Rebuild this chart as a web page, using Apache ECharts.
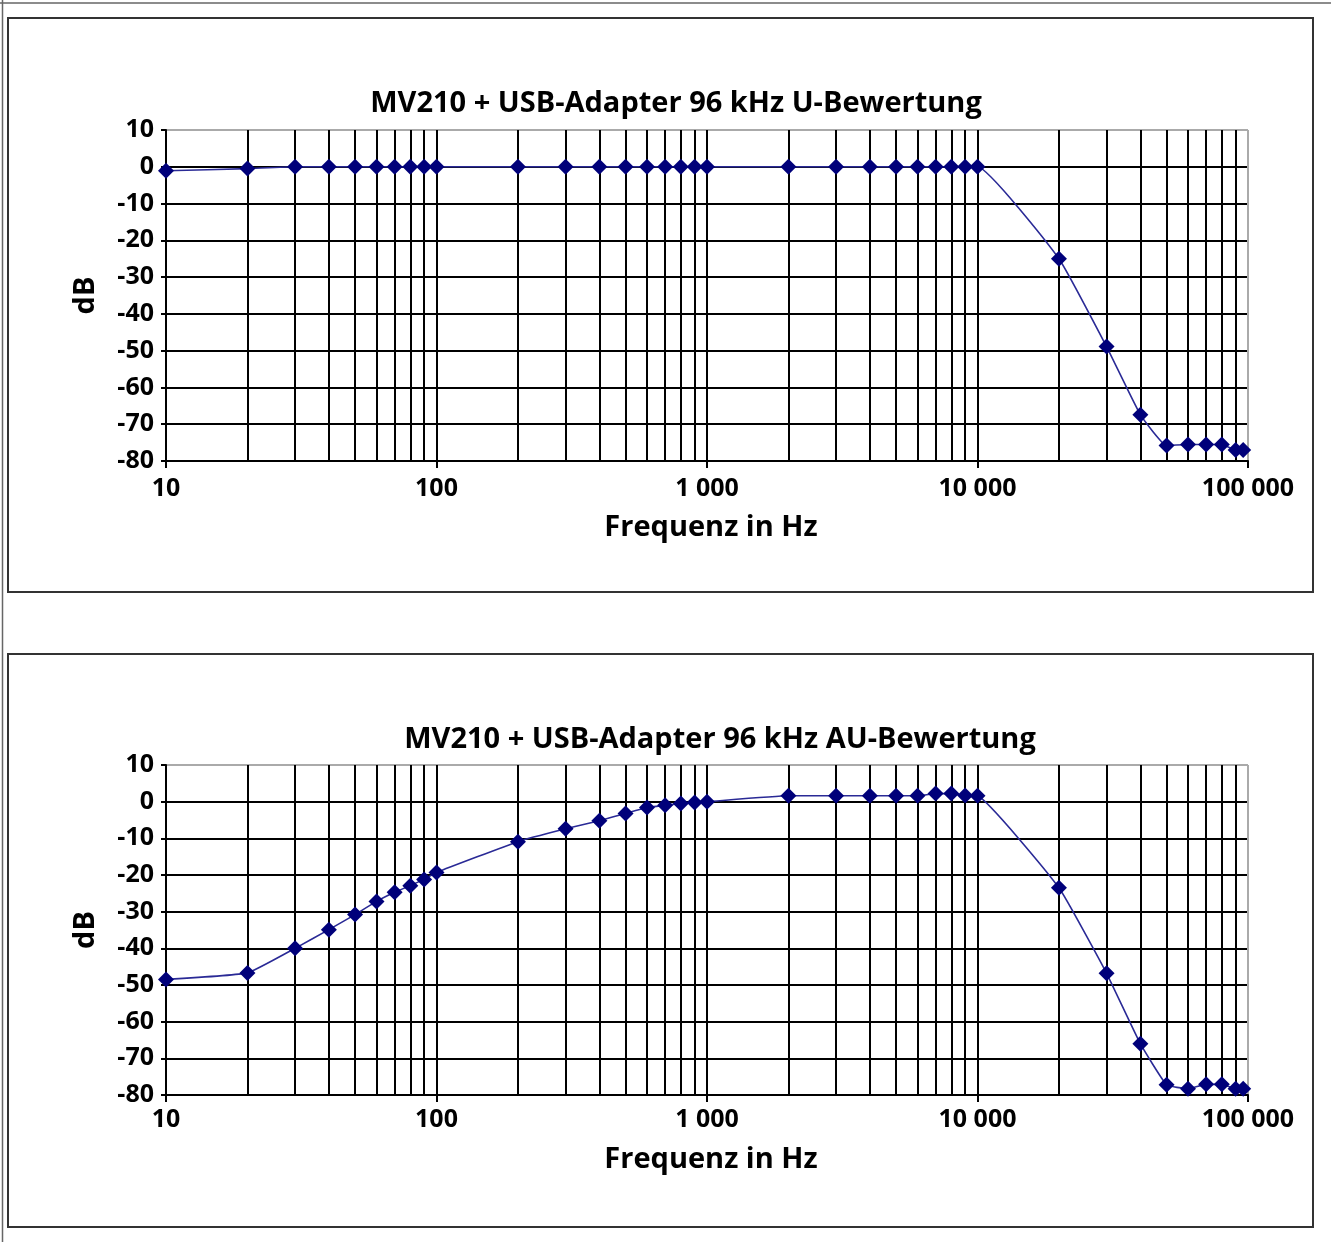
<!DOCTYPE html>
<html>
<head>
<meta charset="utf-8">
<script src="https://cdn.jsdelivr.net/npm/echarts@6/dist/echarts.min.js"></script>
<style>
html,body{margin:0;padding:0;background:#fff;}
#c{width:1331px;height:1242px;}
</style>
</head>
<body>
<div id="c"></div>
<script>
// ---- data ----
const freqs = [10,20,30,40,50,60,70,80,90,100,200,300,400,500,600,700,800,900,1000,2000,3000,4000,5000,6000,7000,8000,9000,10000,20000,30000,40000,50000,60000,70000,80000,90000,96000];
const uValues = [-1.1,-0.5,0,0,0,0,0,0,0,0,0,0,0,0,0,0,0,0,0,0,0,0,0,0,0,0,0,0,-25,-48.9,-67.4,-75.8,-75.5,-75.5,-75.5,-77,-77];
const auValues = [-48.5,-46.7,-40,-34.9,-30.8,-27.2,-24.7,-22.9,-21.2,-19.3,-10.9,-7.4,-5.2,-3.2,-1.6,-1.0,-0.5,-0.2,0,1.6,1.6,1.6,1.6,1.6,2.2,2.2,1.7,1.6,-23.5,-46.8,-66,-77.2,-78.3,-77.1,-77.1,-78.3,-78.3];
const minorGrid = [20,30,40,50,60,70,80,90,200,300,400,500,600,700,800,900,2000,3000,4000,5000,6000,7000,8000,9000,20000,30000,40000,50000,60000,70000,80000,90000];
const xTickLabels = ['10','100','1 000','10 000','100 000'];
const titles = ['MV210 + USB-Adapter 96 kHz U-Bewertung','MV210 + USB-Adapter 96 kHz AU-Bewertung'];
const xName = 'Frequenz in Hz';
const yName = 'dB';

const FONT = 'Open Sans';
const chart = echarts.init(document.getElementById('c'), null, {renderer:'canvas'});

const grids = [
  {left:166, right:83, top:130, height:331},
  {left:166, right:83, top:765, height:330}
];

function xAxis(i){
  return {
    type:'log', logBase:10, min:10, max:100000, gridIndex:i,
    name:xName, nameLocation:'middle', nameGap:i===0?52:50,
    nameTextStyle:{fontFamily:FONT, fontSize:29, fontWeight:'bold', color:'#000', padding:[0,0,0,8]},
    axisLine:{show:true, onZero:false, lineStyle:{color:'#000', width:2}},
    axisTick:{show:true, length:7, lineStyle:{color:'#000', width:2}},
    axisLabel:{fontFamily:FONT, fontSize:25, fontWeight:'bold', color:'#000', margin:i===0?15:12,
      formatter:function(v){ return xTickLabels[Math.round(Math.log10(v))-1]; }},
    splitLine:{show:true, lineStyle:{color:['#000','#000','#000','#000','#aaa'], width:2}},
    minorTick:{show:false}
  };
}
function yAxis(i){
  return {
    type:'value', min:-80, max:10, interval:10, gridIndex:i,
    name:yName, nameLocation:'middle', nameGap:66, nameRotate:90,
    nameTextStyle:{fontFamily:FONT, fontSize:29, fontWeight:'bold', color:'#000'},
    axisLine:{show:true, onZero:false, lineStyle:{color:'#000', width:2}},
    axisTick:{show:true, length:5, lineStyle:{color:'#000', width:2}},
    axisLabel:{fontFamily:FONT, fontSize:25, fontWeight:'bold', color:'#000', margin:12},
    splitLine:{show:true, lineStyle:{color:['#000','#000','#000','#000','#000','#000','#000','#000','#000','#aaa'], width:2}}
  };
}
function gridSeries(i){
  return {
    type:'line', xAxisIndex:i, yAxisIndex:i, z:1, silent:true,
    data:[[10,0]], symbol:'none', lineStyle:{width:0, opacity:0},
    markLine:{silent:true, symbol:'none', animation:false, label:{show:false},
      lineStyle:{color:'#000', type:'solid', width:2},
      data:minorGrid.map(v=>({xAxis:v}))}
  };
}
function dataSeries(i, vals){
  return {
    type:'line', xAxisIndex:i, yAxisIndex:i, z:5,
    data:freqs.map((f,k)=>[f, vals[k]]),
    smooth:0.12, symbol:'diamond', symbolSize:16,
    itemStyle:{color:'#00007a'},
    lineStyle:{color:'#2a2a96', width:1.6},
    animation:false
  };
}

const boxes = [
  {x:8, y:18, w:1305, h:574},
  {x:8, y:654, w:1305, h:573}
];

chart.setOption({
  animation:false,
  backgroundColor:'#fff',
  grid:grids,
  xAxis:[xAxis(0), xAxis(1)],
  yAxis:[yAxis(0), yAxis(1)],
  series:[gridSeries(0), dataSeries(0,uValues), gridSeries(1), dataSeries(1,auValues)],
  graphic:[
    {type:'line', shape:{x1:0,y1:3,x2:1331,y2:3}, style:{stroke:'#666', lineWidth:1.5}, silent:true},
    {type:'line', shape:{x1:2.5,y1:0,x2:2.5,y2:1242}, style:{stroke:'#666', lineWidth:1.5}, silent:true},
    ...boxes.map(b=>({type:'rect', shape:{x:b.x,y:b.y,width:b.w,height:b.h}, style:{fill:'none', stroke:'#333', lineWidth:2}, silent:true})),
    {type:'text', x:676, y:104, style:{text:titles[0], fontFamily:FONT, fontSize:29, fontWeight:'bold', fill:'#000', textAlign:'center', textVerticalAlign:'middle'}},
    {type:'text', x:720, y:740, style:{text:titles[1], fontFamily:FONT, fontSize:29, fontWeight:'bold', fill:'#000', textAlign:'center', textVerticalAlign:'middle'}}
  ]
});
</script>
</body>
</html>
